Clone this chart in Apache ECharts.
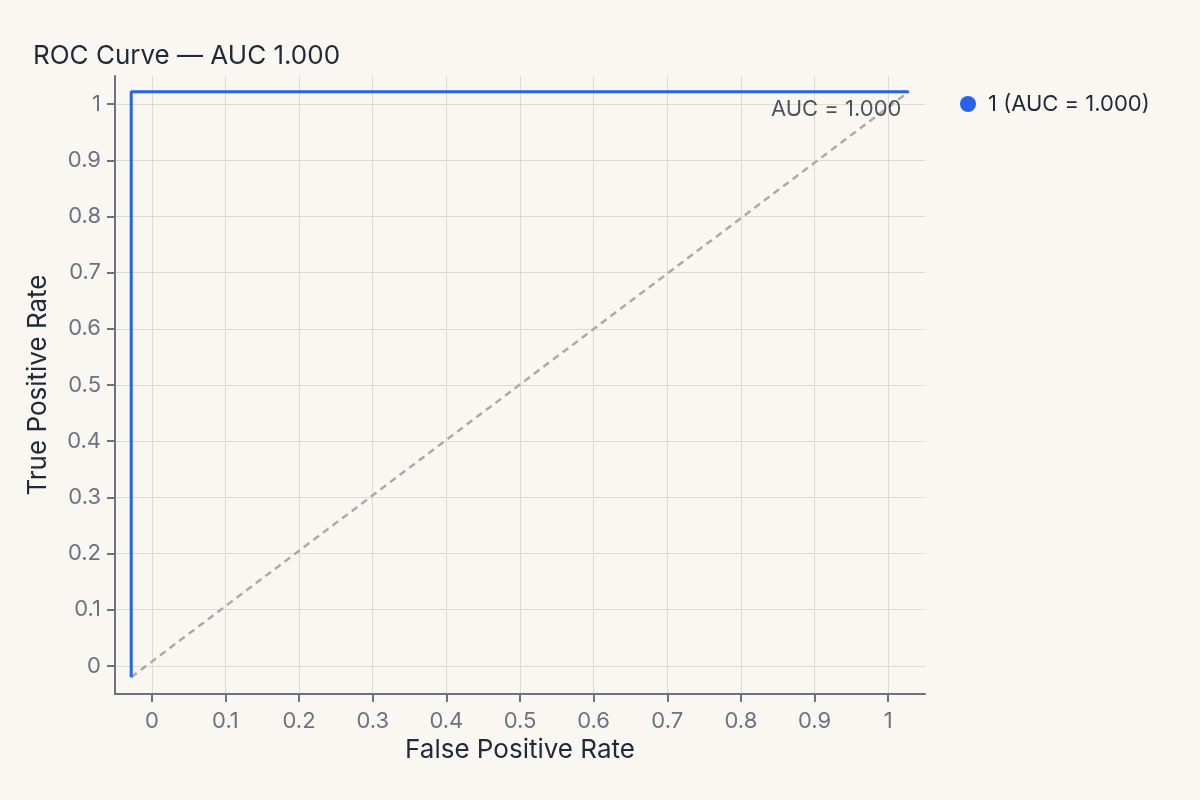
<!DOCTYPE html>
<html>
<head>
<meta charset="utf-8">
<script src="https://cdn.jsdelivr.net/npm/echarts@6/dist/echarts.min.js"></script>
<style>
  html, body { margin: 0; padding: 0; background: #faf7f2; }
  #chart { width: 1200px; height: 800px; }
</style>
</head>
<body>
<div id="chart"></div>
<script>
// ROC data
var rocFpr = [-0.028, -0.028, 1.028];
var rocTpr = [-0.02, 1.022, 1.022];
var chanceFpr = [-0.028, 1.028];
var chanceTpr = [-0.02, 1.022];
var xTicks = [0, 0.1, 0.2, 0.3, 0.4, 0.5, 0.6, 0.7, 0.8, 0.9, 1];
var yTicks = [0, 0.1, 0.2, 0.3, 0.4, 0.5, 0.6, 0.7, 0.8, 0.9, 1];
var seriesName = '1 (AUC = 1.000)';
var aucText = 'AUC = 1.000';
var aucPos = [1.018, 0.99];

function pairs(xs, ys) {
    return xs.map(function (x, i) { return [x, ys[i]]; });
}

var fontFamily = 'Inter, "Noto Sans", sans-serif';
var axisColor = '#6b7280';
var gridColor = '#dedad4';

var chart = echarts.init(document.getElementById('chart'));

chart.setOption({
    backgroundColor: '#faf7f2',
    textStyle: { fontFamily: fontFamily },
    title: {
        text: 'ROC Curve — AUC 1.000',
        left: 28,
        top: 38,
        textStyle: { fontSize: 26, fontWeight: 'normal', color: '#1f2937', fontFamily: fontFamily }
    },
    legend: {
        data: [seriesName],
        left: 955,
        top: 88,
        icon: 'circle',
        itemWidth: 16,
        itemHeight: 16,
        itemGap: 10,
        textStyle: { fontSize: 22, color: '#1f2937', fontFamily: fontFamily, padding: [0, 0, 6, 7] }
    },
    grid: { left: 115, right: 275, top: 76, bottom: 106 },
    xAxis: {
        type: 'value',
        min: -0.05,
        max: 1.05,
        name: 'False Positive Rate',
        nameLocation: 'middle',
        nameGap: 37,
        nameTextStyle: { fontSize: 26, color: '#1f2937' },
        axisLine: { show: true, onZero: false, lineStyle: { color: axisColor, width: 2 } },
        axisTick: { show: true, length: 8, customValues: xTicks, lineStyle: { color: axisColor, width: 2 } },
        axisLabel: { customValues: xTicks, fontSize: 22, color: axisColor, margin: 16 },
        splitLine: { show: true, lineStyle: { color: gridColor, width: 1 } }
    },
    yAxis: {
        type: 'value',
        min: -0.05,
        max: 1.05,
        name: 'True Positive Rate',
        nameLocation: 'middle',
        nameGap: 64,
        nameTextStyle: { fontSize: 26, color: '#1f2937' },
        axisLine: { show: true, onZero: false, lineStyle: { color: axisColor, width: 2 } },
        axisTick: { show: true, length: 8, customValues: yTicks, lineStyle: { color: axisColor, width: 2 } },
        axisLabel: { customValues: yTicks, fontSize: 22, color: axisColor, margin: 14 },
        splitLine: { show: true, lineStyle: { color: gridColor, width: 1 } }
    },
    series: [
        {
            name: 'chance',
            type: 'line',
            data: pairs(chanceFpr, chanceTpr),
            showSymbol: false,
            silent: true,
            lineStyle: { color: '#ababab', width: 2.5, type: [7, 5] },
            z: 2
        },
        {
            name: seriesName,
            type: 'line',
            data: pairs(rocFpr, rocTpr),
            showSymbol: false,
            itemStyle: { color: '#2563eb' },
            lineStyle: { color: '#2563eb', width: 3 },
            z: 3
        },
        {
            name: 'auc-note',
            type: 'scatter',
            data: [aucPos],
            symbolSize: 0,
            silent: true,
            label: {
                show: true,
                position: 'left',
                distance: 0,
                formatter: aucText,
                fontSize: 22,
                color: '#1f2937',
                fontFamily: fontFamily
            },
            z: 4
        }
    ]
});
</script>
</body>
</html>
